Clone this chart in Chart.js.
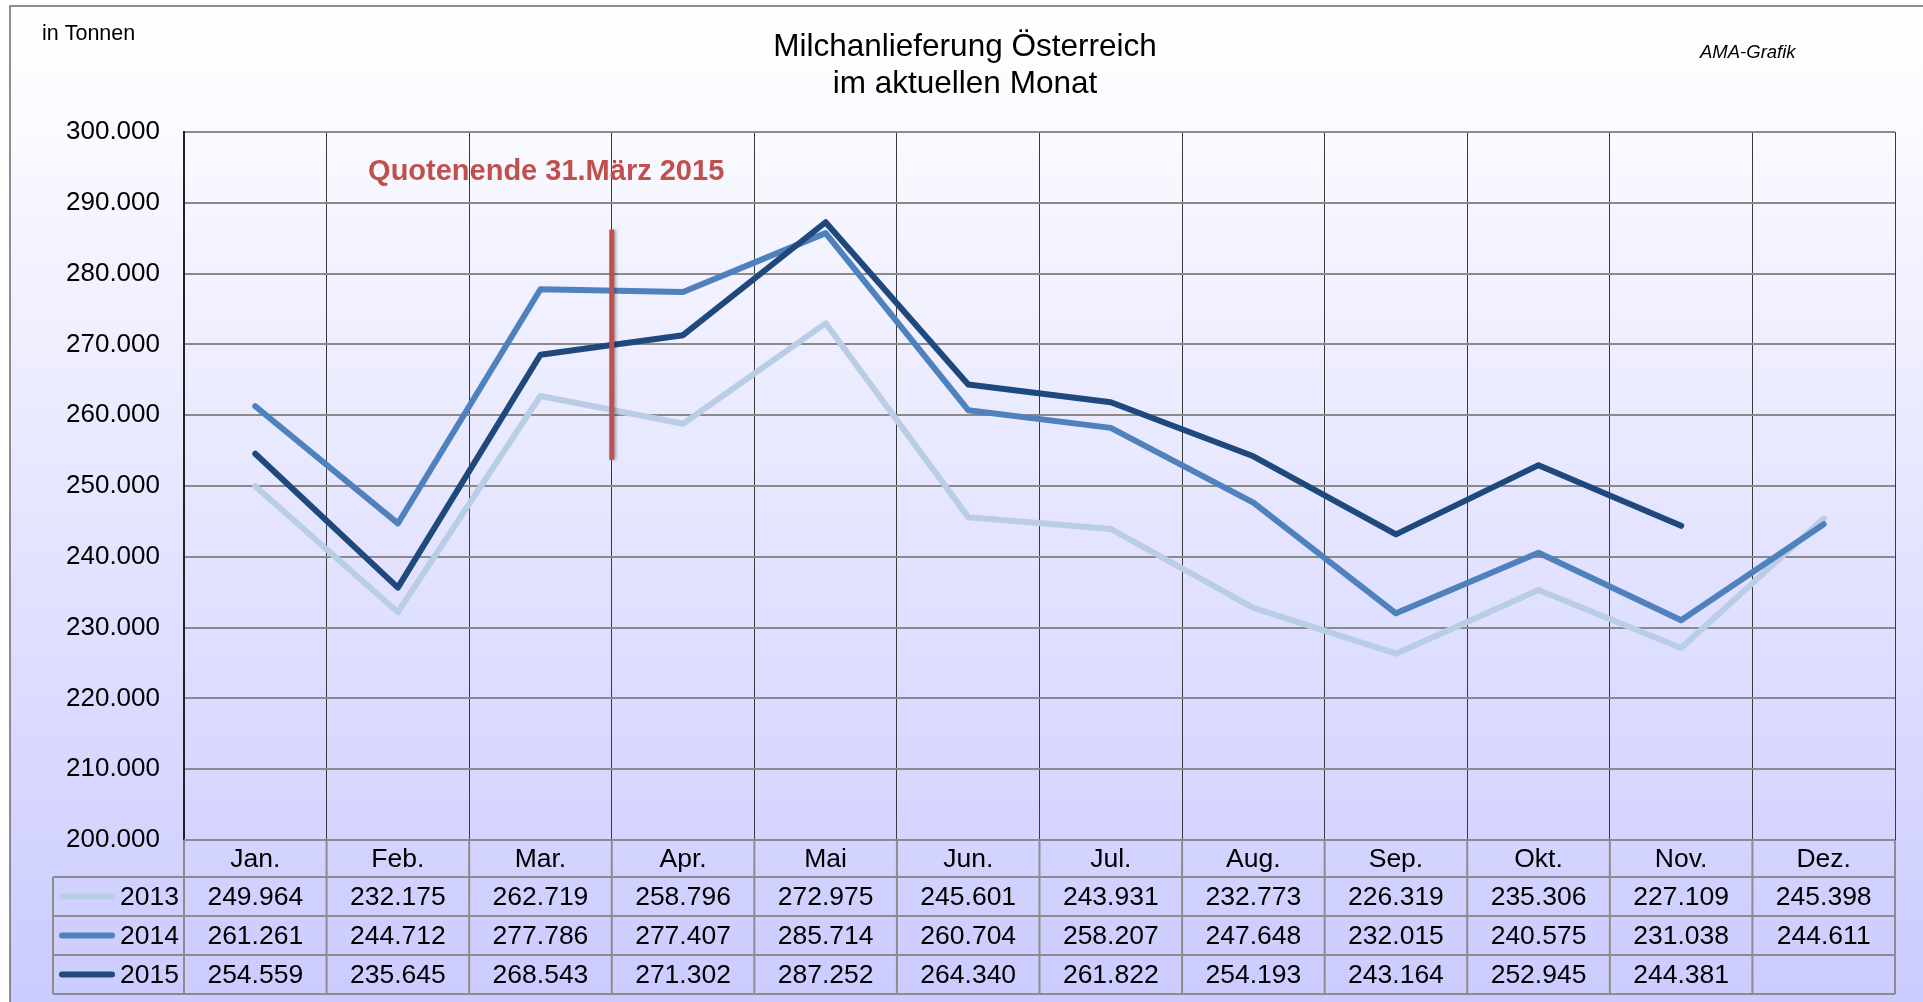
<!DOCTYPE html>
<html>
<head>
<meta charset="utf-8">
<title>Milchanlieferung Österreich</title>
<script src="https://cdn.jsdelivr.net/npm/chart.js@4.4.0/dist/chart.umd.min.js"></script>
<style>
    body { margin: 0; background: #fff; }
    #box { width: 1923px; height: 1002px; position: relative; }
</style>
</head>
<body>
<div id="box"><canvas id="myChart"></canvas></div>
<script>
const monate = ['Jan.', 'Feb.', 'Mar.', 'Apr.', 'Mai', 'Jun.', 'Jul.', 'Aug.', 'Sep.', 'Okt.', 'Nov.', 'Dez.']
const jahre = ['2013', '2014', '2015']
const werte2013 = [249964, 232175, 262719, 258796, 272975, 245601, 243931, 232773, 226319, 235306, 227109, 245398]
const werte2014 = [261261, 244712, 277786, 277407, 285714, 260704, 258207, 247648, 232015, 240575, 231038, 244611]
const werte2015 = [254559, 235645, 268543, 271302, 287252, 264340, 261822, 254193, 243164, 252945, 244381, null]
const farben = ['#B9CDE5', '#4F81BD', '#1F497D']
const yMin = 200000
const yMax = 300000
const yStep = 10000

// Markierung Quotenende (zwischen Mar. und Apr.)
const quoteText = 'Quotenende 31.März 2015'
const quotePos = 2.5
const quoteVon = 253700
const quoteBis = 286200
const quoteTextPos = 2.04
const quoteTextWert = 294400

const schrift = "'Liberation Sans', Arial, sans-serif"

function formatZahl(v) {
    if (v == null) return ''
    let s = String(Math.round(v))
    return s.replace(/\B(?=(\d{3})+(?!\d))/g, '.')
}

const hintergrund = {
    id: 'hintergrund',
    beforeDraw(chart) {
        let ctx = chart.ctx
        ctx.save()
        ctx.fillStyle = '#ffffff'
        ctx.fillRect(0, 0, chart.width, chart.height)
        let grad = ctx.createLinearGradient(0, 6, 0, chart.height)
        grad.addColorStop(0, '#ffffff')
        grad.addColorStop(0.08, '#fcfcff')
        grad.addColorStop(1, '#cbcbff')
        ctx.fillStyle = grad
        ctx.fillRect(10, 6, chart.width - 10, chart.height - 6)
        ctx.restore()
    }
}

const quoteLinie = {
    id: 'quoteLinie',
    afterDatasetsDraw(chart) {
        let ctx = chart.ctx
        let x = chart.scales.x
        let y = chart.scales.y
        let px = x.getPixelForValue(quotePos)
        ctx.save()
        ctx.shadowColor = 'rgba(0,0,0,0.3)'
        ctx.shadowBlur = 3
        ctx.shadowOffsetX = 2
        ctx.strokeStyle = '#C0504D'
        ctx.lineWidth = 5
        ctx.beginPath()
        ctx.moveTo(px, y.getPixelForValue(quoteBis))
        ctx.lineTo(px, y.getPixelForValue(quoteVon))
        ctx.stroke()
        ctx.restore()

        ctx.save()
        ctx.fillStyle = '#C0504D'
        ctx.font = 'bold 29px ' + schrift
        ctx.textAlign = 'center'
        ctx.textBaseline = 'middle'
        ctx.fillText(quoteText, x.getPixelForValue(quoteTextPos), y.getPixelForValue(quoteTextWert))
        ctx.restore()
    }
}

const texte = {
    id: 'texte',
    afterDraw(chart) {
        let ctx = chart.ctx
        ctx.save()
        ctx.strokeStyle = '#6b6b6b'
        ctx.lineWidth = 1.5
        ctx.beginPath()
        ctx.moveTo(10, chart.height)
        ctx.lineTo(10, 6)
        ctx.lineTo(chart.width, 6)
        ctx.stroke()

        ctx.fillStyle = '#000'
        ctx.textBaseline = 'middle'
        ctx.font = '21.5px ' + schrift
        ctx.textAlign = 'left'
        ctx.fillText('in Tonnen', 42, 34)

        ctx.font = 'italic 18.5px ' + schrift
        ctx.fillText('AMA-Grafik', 1700, 53)

        ctx.font = '31.5px ' + schrift
        ctx.textAlign = 'center'
        ctx.fillText('Milchanlieferung Österreich', 965, 47)
        ctx.fillText('im aktuellen Monat', 965, 84)
        ctx.restore()
    }
}

const tabelle = {
    id: 'tabelle',
    afterDraw(chart) {
        let ctx = chart.ctx
        let x = chart.scales.x
        let area = chart.chartArea
        let oben = area.bottom
        let kopfH = 37
        let zeileH = 39
        let legLinks = 53
        let reihen = [werte2013, werte2014, werte2015]
        let unten = oben + kopfH + zeileH * reihen.length

        ctx.save()
        ctx.strokeStyle = '#8c8c8c'
        ctx.lineWidth = 2
        ctx.beginPath()
        ctx.moveTo(area.left, oben)
        ctx.lineTo(area.right, oben)
        for (let r = 0; r <= reihen.length; r++) {
            let yy = oben + kopfH + r * zeileH
            ctx.moveTo(legLinks, yy)
            ctx.lineTo(area.right, yy)
        }
        for (let i = 0; i <= monate.length; i++) {
            let xx = x.getPixelForValue(i - 0.5)
            ctx.moveTo(xx, oben)
            ctx.lineTo(xx, unten)
        }
        ctx.moveTo(legLinks, oben + kopfH)
        ctx.lineTo(legLinks, unten)
        ctx.stroke()

        ctx.fillStyle = '#000'
        ctx.font = '26.5px ' + schrift
        ctx.textAlign = 'center'
        ctx.textBaseline = 'middle'
        for (let i = 0; i < monate.length; i++) {
            let cx = x.getPixelForValue(i)
            ctx.fillText(monate[i], cx, oben + kopfH / 2 + 1)
            for (let r = 0; r < reihen.length; r++) {
                ctx.fillText(formatZahl(reihen[r][i]), cx, oben + kopfH + r * zeileH + zeileH / 2 + 1)
            }
        }

        for (let r = 0; r < reihen.length; r++) {
            let cy = oben + kopfH + r * zeileH + zeileH / 2
            ctx.strokeStyle = farben[r]
            ctx.lineWidth = 6
            ctx.lineCap = 'round'
            ctx.beginPath()
            ctx.moveTo(62, cy)
            ctx.lineTo(112, cy)
            ctx.stroke()
            ctx.textAlign = 'right'
            ctx.fillText(jahre[r], 179, cy + 1)
        }
        ctx.restore()
    }
}

function chartJS() {
    let ctx = document.getElementById('myChart').getContext('2d')
    let reihen = [werte2013, werte2014, werte2015]
    let datasets = []
    for (let i = 0; i < jahre.length; i++) {
        datasets.push({
            label: jahre[i],
            data: reihen[i],
            borderColor: farben[i],
            backgroundColor: farben[i],
            borderWidth: 6,
            borderCapStyle: 'round',
            borderJoinStyle: 'round',
            pointRadius: 0,
            tension: 0,
            spanGaps: false,
            order: jahre.length - i
        })
    }
    window.line = new Chart(ctx, {
        type: 'line',
        data: {
            labels: monate,
            datasets: datasets
        },
        options: {
            responsive: true,
            maintainAspectRatio: false,
            animation: false,
            layout: {
                padding: { left: 10, top: 132, right: 28, bottom: 162 }
            },
            plugins: {
                legend: { display: false },
                tooltip: { enabled: false },
                title: { display: false }
            },
            scales: {
                x: {
                    offset: true,
                    grid: { offset: true, color: '#3a3a3a', lineWidth: 1, drawTicks: false },
                    border: { display: false },
                    ticks: { display: false },
                    afterFit: function (scale) { scale.height = 0 }
                },
                y: {
                    min: yMin,
                    max: yMax,
                    grid: { color: '#8a8a8a', lineWidth: 2, drawTicks: false },
                    border: { display: true, color: '#222', width: 2 },
                    ticks: {
                        stepSize: yStep,
                        padding: 24,
                        color: '#000',
                        font: { family: schrift, size: 26 },
                        callback: function (v) { return formatZahl(v) }
                    },
                    afterFit: function (scale) { scale.width = 174 }
                }
            }
        },
        plugins: [hintergrund, quoteLinie, texte, tabelle]
    })
}

chartJS()
</script>
</body>
</html>
